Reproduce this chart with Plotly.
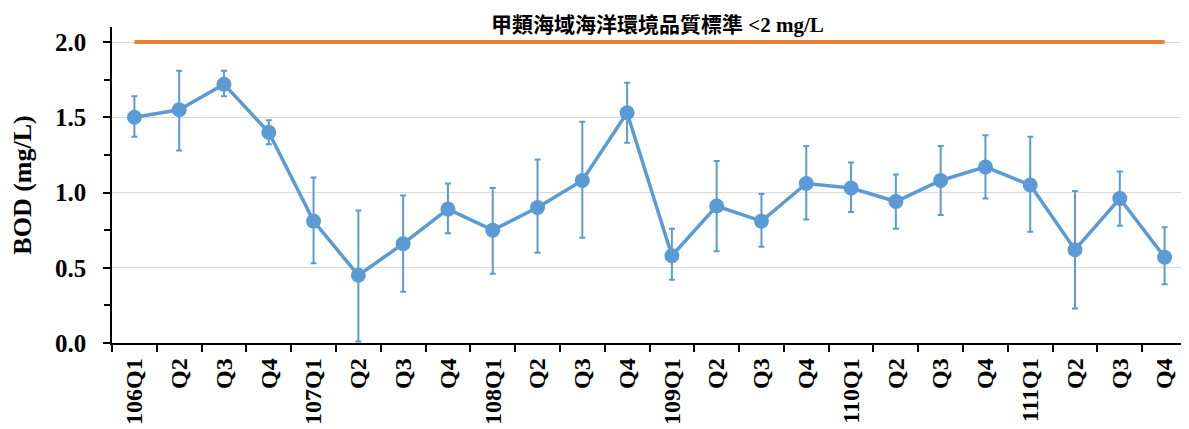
import plotly.graph_objects as go

categories = ["106Q1", "Q2", "Q3", "Q4", "107Q1", "Q2 ", "Q3 ", "Q4 ",
              "108Q1", "Q2  ", "Q3  ", "Q4  ", "109Q1", "Q2   ", "Q3   ", "Q4   ",
              "110Q1", "Q2    ", "Q3    ", "Q4    ", "111Q1", "Q2     ", "Q3     ", "Q4     "]
bod_mean = [1.50, 1.55, 1.72, 1.40, 0.81, 0.45, 0.66, 0.89,
            0.75, 0.90, 1.08, 1.53, 0.58, 0.91, 0.81, 1.06,
            1.03, 0.94, 1.08, 1.17, 1.05, 0.62, 0.96, 0.57]
bod_upper = [1.64, 1.81, 1.81, 1.48, 1.10, 0.88, 0.98, 1.06,
             1.03, 1.22, 1.47, 1.73, 0.76, 1.21, 0.99, 1.31,
             1.20, 1.12, 1.31, 1.38, 1.37, 1.01, 1.14, 0.77]
bod_lower = [1.37, 1.28, 1.64, 1.32, 0.53, 0.01, 0.34, 0.73,
             0.46, 0.60, 0.70, 1.33, 0.42, 0.61, 0.64, 0.82,
             0.87, 0.76, 0.85, 0.96, 0.74, 0.23, 0.78, 0.39]
standard = [2.0] * len(categories)
standard_label_cjk = "甲類海域海洋環境品質標準"
standard_label_val = " <2 mg/L"

err_plus = [u - m for u, m in zip(bod_upper, bod_mean)]
err_minus = [m - l for m, l in zip(bod_mean, bod_lower)]

blue = "#5b9bd5"
orange = "#ed7d31"
font_family = "Liberation Serif, Times New Roman, Noto Sans CJK TC, serif"

W, H = 1189, 429
ML, MR, MT, MB = 104, 10, 19, 94   # page body has an 8px margin
plot_w = W - ML - MR
plot_h = H - MT - MB

fig = go.Figure()
fig.add_trace(go.Scatter(
    x=categories, y=standard, mode="lines",
    line=dict(color=orange, width=4), showlegend=False, hoverinfo="skip"))
fig.add_trace(go.Scatter(
    x=categories, y=bod_mean, mode="lines+markers",
    line=dict(color=blue, width=3.5),
    marker=dict(color=blue, size=15),
    error_y=dict(type="data", symmetric=False, array=err_plus, arrayminus=err_minus,
                 color=blue, thickness=2, width=3),
    showlegend=False))

fig.add_annotation(
    xref="paper", yref="paper", showarrow=False,
    x=(649 - ML) / plot_w, y=1 + (MT - 15) / plot_h,
    xanchor="center", yanchor="middle",
    text=("<span style='font-family:Noto Sans CJK TC;font-size:21px'><b>" + standard_label_cjk +
          "</b></span><span style='font-family:Liberation Serif;font-size:21px'><b>" +
          standard_label_val.replace("<", "&lt;") + "</b></span>"),
    font=dict(family="Liberation Serif, serif", size=20, color="#000000"))

fig.update_layout(
    width=W, height=H,
    margin=dict(l=ML, r=MR, t=MT, b=MB),
    paper_bgcolor="white", plot_bgcolor="white",
    font=dict(family=font_family, color="#000000"),
)
fig.update_xaxes(
    type="category", tickson="boundaries", ticks="outside", ticklen=7, tickwidth=1.5,
    tickcolor="#000000", showline=True, linecolor="#000000", linewidth=1.5,
    showgrid=False, tickangle=-90, automargin=False, ticklabelstandoff=4,
    tickfont=dict(family=font_family, size=24, color="#000000"),
    range=[-0.5, 23.5],
)
fig.update_yaxes(
    range=[0, 2.1], tick0=0, dtick=0.5, tickformat=".1f", automargin=False,
    ticks="outside", ticklen=7, tickwidth=1.5, tickcolor="#000000",
    showline=True, linecolor="#000000", linewidth=1.5, ticklabelstandoff=12,
    showgrid=True, gridcolor="#d9d9d9", gridwidth=1.2, zeroline=False,
    minor=dict(dtick=0.25, tick0=0, ticks="outside", ticklen=6, tickcolor="#000000", showgrid=False),
    tickfont=dict(family=font_family, size=25, color="#000000"),
    title=dict(text="<b>BOD (mg/L)</b>", font=dict(family=font_family, size=26, color="#000000"),
               standoff=16),
)
fig.for_each_xaxis(lambda a: a.update(ticktext=[f"<b>{c.strip()}</b>" for c in categories],
                                      tickvals=categories, tickmode="array"))
fig.for_each_yaxis(lambda a: a.update(tickprefix="<b>", ticksuffix="</b>"))

fig.write_html("out.html")
